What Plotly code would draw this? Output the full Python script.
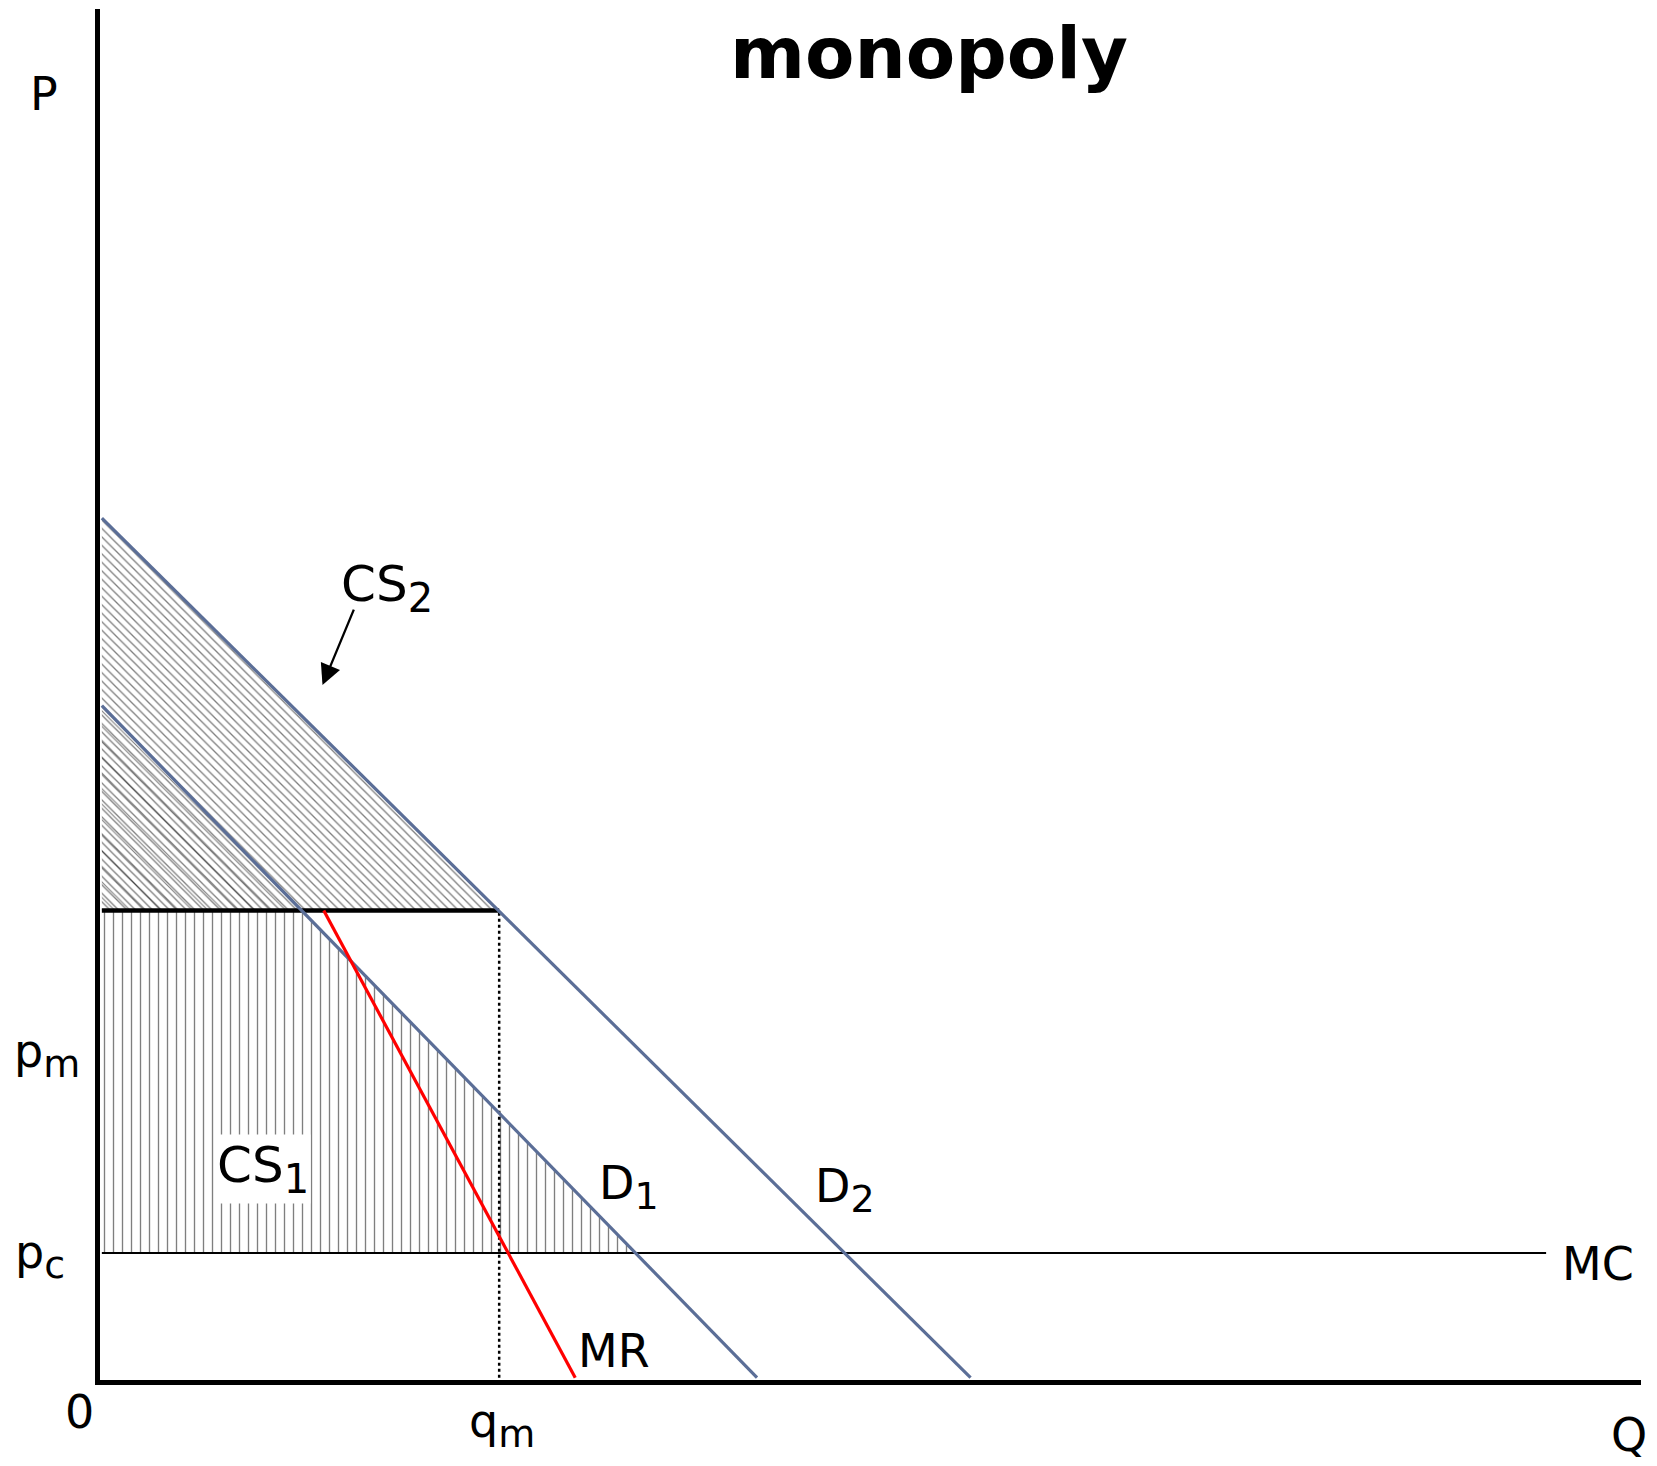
import plotly.graph_objects as go

# ---- data (abstract economic units) ----
D2_q = [0.0, 56.3]
D2_p = [62.6, 0.0]
D1_q = [0.0, 42.46]
D1_p = [48.95, 0.0]
MR_q = [14.38, 30.68]
MR_p = [34.02, 0.0]
p_line = 34.02          # horizontal price line
q_m = 25.75
p_c = 9.08
MC_q = [0.0, 93.6]
MC_p = [p_c, p_c]

# consumer-surplus regions
CS2_q = [0.0, 0.0, 25.75, 0.0]
CS2_p = [62.6, 34.02, 34.02, 62.6]
CS2b_q = [0.0, 0.0, 12.95, 0.0]
CS2b_p = [48.95, 34.02, 34.02, 48.95]
CS1_q = [0.0, 12.95, 34.6, 0.0, 0.0]
CS1_p = [34.02, 34.02, 9.08, 9.08, 34.02]

FONT = "DejaVu Sans, Verdana, sans-serif"
DEM = "#5b6e97"
XR = [-0.12, 99.75]
YR = [-0.17, 99.68]


def px(x):
    return (x - XR[0]) / (XR[1] - XR[0])


def py(y):
    return (y - YR[0]) / (YR[1] - YR[0])


def sub(base, s, size=38):
    return f"{base}<sub><span style='font-size:{size}px'>{s}</span></sub>"


fig = go.Figure()

# hatched fills
fig.add_trace(go.Scatter(x=CS2_q, y=CS2_p, fill="toself", mode="none",
                         fillcolor="rgba(0,0,0,0)",
                         fillpattern=dict(shape="\\", size=6, solidity=0.22,
                                          fgcolor="black", bgcolor="rgba(0,0,0,0)",
                                          fillmode="overlay"),
                         hoverinfo="skip", showlegend=False))
fig.add_trace(go.Scatter(x=CS2b_q, y=CS2b_p, fill="toself", mode="none",
                         fillcolor="rgba(0,0,0,0)",
                         fillpattern=dict(shape="\\", size=11, solidity=0.1,
                                          fgcolor="black", bgcolor="rgba(0,0,0,0)",
                                          fillmode="overlay"),
                         hoverinfo="skip", showlegend=False))
fig.add_trace(go.Scatter(x=CS1_q, y=CS1_p, fill="toself", mode="none",
                         fillcolor="rgba(0,0,0,0)",
                         fillpattern=dict(shape="|", size=9, solidity=0.15,
                                          fgcolor="black", bgcolor="rgba(0,0,0,0)",
                                          fillmode="overlay"),
                         hoverinfo="skip", showlegend=False))

# lines
fig.add_trace(go.Scatter(x=MC_q, y=MC_p, mode="lines", line=dict(color="black", width=2),
                         hoverinfo="skip", showlegend=False))
fig.add_trace(go.Scatter(x=[q_m, q_m], y=[0, p_line], mode="lines",
                         line=dict(color="black", width=2.5, dash="dot"),
                         hoverinfo="skip", showlegend=False))
fig.add_trace(go.Scatter(x=[0, q_m], y=[p_line, p_line], mode="lines",
                         line=dict(color="black", width=4.5),
                         hoverinfo="skip", showlegend=False))
fig.add_trace(go.Scatter(x=D1_q, y=D1_p, mode="lines", line=dict(color=DEM, width=3.2),
                         hoverinfo="skip", showlegend=False))
fig.add_trace(go.Scatter(x=D2_q, y=D2_p, mode="lines", line=dict(color=DEM, width=3.2),
                         hoverinfo="skip", showlegend=False))
fig.add_trace(go.Scatter(x=MR_q, y=MR_p, mode="lines", line=dict(color="#ff0000", width=3.2),
                         hoverinfo="skip", showlegend=False))

# labels (positions in data units, converted to paper so they may lie outside the axes)
labels = [
    ("P", -3.72, 93.48, 46),
    (sub("p", "m"), -3.56, 23.48, 46),
    (sub("p", "c"), -3.98, 8.83, 46),
    ("0", -1.45, -2.53, 46),
    (sub("q", "m"), 25.96, -3.48, 46),
    ("Q", 98.95, -4.2, 46),
    ("MC", 96.99, 8.25, 46),
    ("MR", 33.16, 1.91, 46),
    (sub("D", "1"), 34.19, 13.86, 46),
    (sub("D", "2"), 48.19, 13.64, 46),
    (sub("CS", "2", 40), 18.45, 57.48, 50),
]
for txt, x, y, sz in labels:
    fig.add_annotation(x=px(x), y=py(y), xref="paper", yref="paper", text=txt,
                       xanchor="center", yanchor="middle", borderpad=0,
                       showarrow=False, font=dict(family=FONT, size=sz, color="black"))
fig.add_annotation(x=10.45, y=15.2, xref="x", yref="y", text=sub("CS", "1", 40),
                   xanchor="center", yanchor="middle",
                   showarrow=False, bgcolor="white",
                   font=dict(family=FONT, size=50, color="black"))
# arrow
fig.add_annotation(x=14.3, y=50.44, ax=16.37, ay=56.05, xref="x", yref="y",
                   axref="x", ayref="y", text="", showarrow=True,
                   arrowhead=2, arrowsize=1.8, arrowwidth=2.3, arrowcolor="black")
# title
fig.add_annotation(x=px(53.6), y=py(96.5), xref="paper", yref="paper", text="<b>monopoly</b>",
                   xanchor="center", yanchor="middle", borderpad=0,
                   showarrow=False, font=dict(family=FONT, size=72, color="black"))

fig.update_xaxes(range=XR, showline=True, linewidth=5, linecolor="black",
                 showgrid=False, zeroline=False, showticklabels=False, ticks="")
fig.update_yaxes(range=YR, showline=True, linewidth=5, linecolor="black",
                 showgrid=False, zeroline=False, showticklabels=False, ticks="")
fig.update_layout(width=1649, height=1450, margin=dict(l=92, r=16, t=1, b=78),
                  plot_bgcolor="white", paper_bgcolor="white", showlegend=False)

fig.write_html("out.html")
